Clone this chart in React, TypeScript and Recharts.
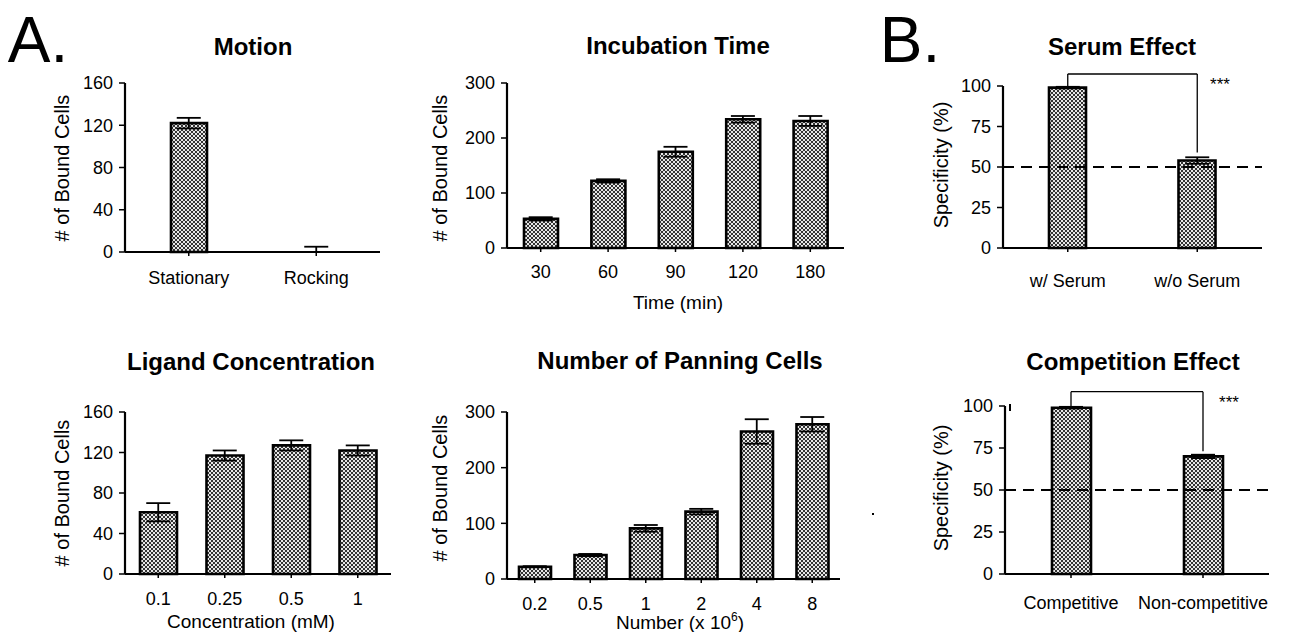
import React from "react";
import { ComposedChart, Bar, Scatter, XAxis, YAxis, ErrorBar, ReferenceLine } from "recharts";

const FONT = '"Liberation Sans", Arial, sans-serif';

// A. Motion
const motionCats = ["Stationary", "Rocking"];
const motionVals = [122, 0];
const motionErr = [5, 5];

// A. Incubation time
const timeCats = ["30", "60", "90", "120", "180"];
const timeVals = [53, 122, 175, 234, 231];
const timeErr = [3, 3, 9, 6, 9];

// A. Ligand concentration
const ligandCats = ["0.1", "0.25", "0.5", "1"];
const ligandVals = [61, 117, 127, 122];
const ligandErr = [9, 5, 5, 5];

// A. Number of panning cells
const numberCats = ["0.2", "0.5", "1", "2", "4", "8"];
const numberVals = [22, 43, 91, 121, 265, 278];
const numberErr = [1, 2, 6, 5, 22, 13];

// B. Serum effect
const serumCats = ["w/ Serum", "w/o Serum"];
const serumVals = [99, 54];
const serumErr = [0.5, 2];

// B. Competition effect
const compCats = ["Competitive", "Non-competitive"];
const compVals = [99, 70];
const compErr = [0.5, 1];

const countTicks160 = [0, 40, 80, 120, 160];
const countTicks300 = [0, 100, 200, 300];
const specTicks = [0, 25, 50, 75, 100];
const chanceLevel = 50;
// significance brackets: bracket height, left and right drop ends
const serumBracket = [107.4, 100, 59];
const compBracket = [108.5, 100, 73];

const TOP = 30;
const XH = 60;

// a zero bar only shows the upper half of its error bar
const build = (cats: string[], vals: number[], errs: number[]) =>
  cats.map((c, i) => ({ name: c, value: vals[i], err: vals[i] === 0 ? [0, errs[i]] : errs[i] }));

type PanelProps = {
  x0: number;
  y0: number;
  w: number;
  h: number;
  cats: string[];
  vals: number[];
  errs: number[];
  ticks: number[];
  barSize: number;
  xGap: number;
  children?: React.ReactNode;
};

function Panel({ x0, y0, w, h, cats, vals, errs, ticks, barSize, xGap, children }: PanelProps) {
  const data = build(cats, vals, errs);
  return (
    <div style={{ position: "absolute", left: x0 - 60, top: y0 - TOP }}>
      <ComposedChart
        width={w + 70}
        height={h + TOP + XH}
        data={data}
        margin={{ top: TOP, right: 10, bottom: 0, left: 0 }}
        barCategoryGap="0%"
      >
        <XAxis
          dataKey="name"
          height={XH}
          axisLine={{ stroke: "#000", strokeWidth: 2.2 }}
          tickLine={{ stroke: "#000", strokeWidth: 1.5 }}
          tickSize={4}
          tickMargin={xGap}
          interval={0}
          tick={{ fill: "#000", fontSize: 18, fontFamily: FONT }}
        />
        <YAxis
          width={60}
          domain={[0, ticks[ticks.length - 1]]}
          ticks={ticks}
          axisLine={{ stroke: "#000", strokeWidth: 2.2 }}
          tickLine={{ stroke: "#000", strokeWidth: 1.5 }}
          tickSize={6}
          tickMargin={6}
          tick={{ fill: "#000", fontSize: 18, fontFamily: FONT }}
        />
        <Bar
          dataKey="value"
          barSize={barSize}
          fill="url(#checker)"
          stroke="#000"
          strokeWidth={2.6}
          isAnimationActive={false}
        />
        <Scatter dataKey="value" shape={() => <g />} isAnimationActive={false}>
          <ErrorBar dataKey="err" direction="y" width={12} stroke="#000" strokeWidth={1.8} />
        </Scatter>
        {children}
      </ComposedChart>
    </div>
  );
}

function Bracket({ cats, b }: { cats: string[]; b: number[] }) {
  const line = { stroke: "#000", strokeWidth: 1.3, ifOverflow: "visible" as const };
  return [
    <ReferenceLine key="h" {...line} segment={[{ x: cats[0], y: b[0] }, { x: cats[1], y: b[0] }]} />,
    <ReferenceLine key="l" {...line} segment={[{ x: cats[0], y: b[0] }, { x: cats[0], y: b[1] }]} />,
    <ReferenceLine key="r" {...line} segment={[{ x: cats[1], y: b[0] }, { x: cats[1], y: b[2] }]} />,
  ];
}

const Txt = ({ x, y, size, bold, children, rotate }: any) => (
  <div
    style={{
      position: "absolute",
      left: x,
      top: y,
      transform: `translate(-50%, -50%)${rotate ? " rotate(-90deg)" : ""}`,
      fontSize: size,
      fontWeight: bold ? 700 : 400,
      fontFamily: FONT,
      lineHeight: 1,
      whiteSpace: "nowrap",
      color: "#000",
    }}
  >
    {children}
  </div>
);

export default function App() {
  const dash = { stroke: "#000", strokeWidth: 2.2, strokeDasharray: "11 7" };
  return (
    <div style={{ position: "absolute", left: 0, top: 0, width: 1290, height: 632, background: "#fff", overflow: "hidden" }}>
      <svg width={0} height={0} style={{ position: "absolute" }}>
        <defs>
          <pattern id="checker" width={4} height={4} patternUnits="userSpaceOnUse">
            <rect width={4} height={4} fill="#e6e6e6" />
            <rect width={2} height={2} fill="#333" />
            <rect x={2} y={2} width={2} height={2} fill="#333" />
          </pattern>
        </defs>
      </svg>

      <Txt x={38} y={40} size={64}>A.</Txt>
      <Txt x={910} y={40} size={64}>B.</Txt>

      <Txt x={253} y={47} size={24} bold>Motion</Txt>
      <Txt x={678} y={46} size={24} bold>Incubation Time</Txt>
      <Txt x={1122} y={47} size={24} bold>Serum Effect</Txt>
      <Txt x={251} y={362} size={24} bold>Ligand Concentration</Txt>
      <Txt x={680} y={361} size={24} bold>Number of Panning Cells</Txt>
      <Txt x={1133} y={362} size={24} bold>Competition Effect</Txt>

      <Txt x={62} y={168} size={20} rotate># of Bound Cells</Txt>
      <Txt x={440} y={168} size={20} rotate># of Bound Cells</Txt>
      <Txt x={941} y={165} size={20} rotate>Specificity (%)</Txt>
      <Txt x={62} y={493} size={20} rotate># of Bound Cells</Txt>
      <Txt x={440} y={488} size={20} rotate># of Bound Cells</Txt>
      <Txt x={941} y={488} size={20} rotate>Specificity (%)</Txt>

      <Txt x={678} y={302} size={19}>Time (min)</Txt>
      <Txt x={251} y={621} size={19}>Concentration (mM)</Txt>
      <Txt x={680} y={621} size={19}>
        Number (x 10<sup style={{ fontSize: 12, verticalAlign: "8px" }}>6</sup>)
      </Txt>

      <Panel x0={125} y0={83} w={255} h={169} cats={motionCats} vals={motionVals} errs={motionErr}
        ticks={countTicks160} barSize={36} xGap={15} />
      <Panel x0={507} y0={83} w={337} h={165} cats={timeCats} vals={timeVals} errs={timeErr}
        ticks={countTicks300} barSize={34} xGap={13} />
      <Panel x0={1003} y0={86} w={259} h={162} cats={serumCats} vals={serumVals} errs={serumErr}
        ticks={specTicks} barSize={37} xGap={22}>
        <ReferenceLine y={chanceLevel} {...dash} />
        {Bracket({ cats: serumCats, b: serumBracket })}
      </Panel>
      <Panel x0={125} y0={412} w={266} h={162} cats={ligandCats} vals={ligandVals} errs={ligandErr}
        ticks={countTicks160} barSize={37} xGap={14} />
      <Panel x0={507} y0={412} w={333} h={167} cats={numberCats} vals={numberVals} errs={numberErr}
        ticks={countTicks300} barSize={32} xGap={14} />
      <Panel x0={1005} y0={406} w={264} h={168} cats={compCats} vals={compVals} errs={compErr}
        ticks={specTicks} barSize={39} xGap={18}>
        <ReferenceLine y={chanceLevel} {...dash} />
        {Bracket({ cats: compCats, b: compBracket })}
      </Panel>

      <Txt x={1220} y={84} size={17}>***</Txt>
      <Txt x={1229} y={402} size={17}>***</Txt>

      <div style={{ position: "absolute", left: 872, top: 513, width: 2, height: 2, background: "#000" }} />
      <div style={{ position: "absolute", left: 1009, top: 404, width: 2, height: 7, background: "#000" }} />
    </div>
  );
}
